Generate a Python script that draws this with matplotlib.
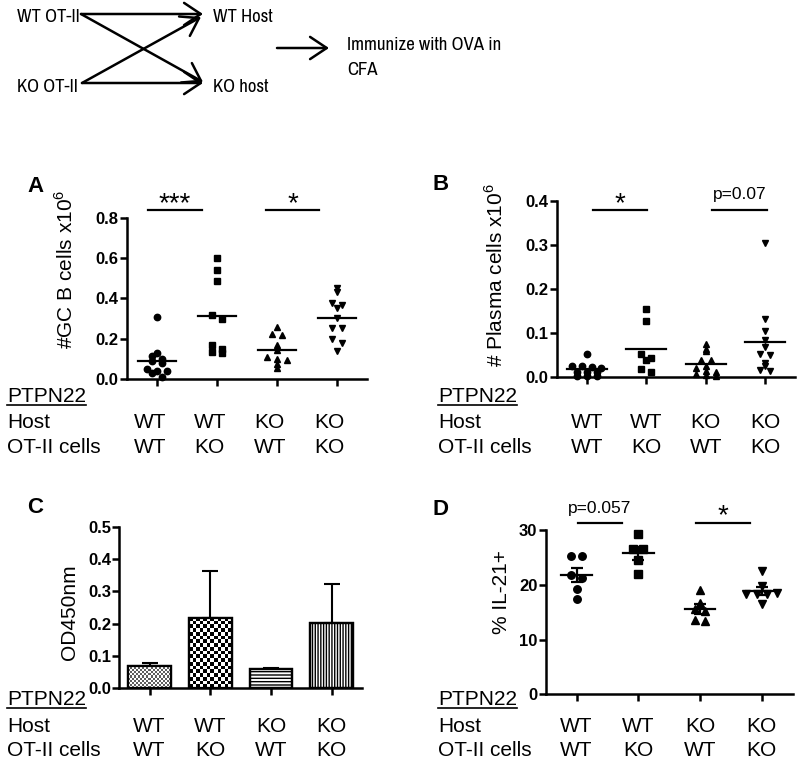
import numpy as np
import matplotlib.pyplot as plt
from matplotlib import font_manager
from matplotlib.font_manager import FontProperties
from matplotlib.transforms import blended_transform_factory

# --- data ---
host = ['WT', 'WT', 'KO', 'KO']
ot2 = ['WT', 'KO', 'WT', 'KO']
markers = ['o', 's', '^', 'v']

# A: GC B cells x10^6
gc_wt_wt = [0.31, 0.13, 0.112, 0.10, 0.088, 0.078, 0.048, 0.038, 0.038, 0.028, 0.012]
gc_wt_ko = [0.60, 0.54, 0.485, 0.32, 0.30, 0.17, 0.15, 0.135, 0.13]
gc_ko_wt = [0.26, 0.225, 0.22, 0.17, 0.145, 0.11, 0.10, 0.095, 0.073, 0.057]
gc_ko_ko = [0.453, 0.43, 0.38, 0.37, 0.355, 0.305, 0.255, 0.255, 0.2, 0.18, 0.137]

# B: plasma cells x10^6
pc_wt_wt = [0.053, 0.026, 0.025, 0.024, 0.022, 0.013, 0.012, 0.011, 0.004, 0.003, 0.002]
pc_wt_ko = [0.155, 0.128, 0.052, 0.043, 0.04, 0.019, 0.013]
pc_ko_wt = [0.075, 0.065, 0.06, 0.04, 0.04, 0.025, 0.02, 0.015, 0.012, 0.008, 0.005, 0.003]
pc_ko_ko = [0.305, 0.132, 0.105, 0.085, 0.068, 0.052, 0.05, 0.032, 0.026, 0.017, 0.015]

# C: OD450nm, mean and upper error
od_mean = [0.069, 0.217, 0.059, 0.203]
od_err = [0.010, 0.145, 0.004, 0.119]

# D: % IL-21+
il_wt_wt = [25.3, 25.3, 21.8, 21.3, 19.3, 17.4]
il_wt_ko = [29.3, 26.5, 26.5, 24.6, 21.9]
il_ko_wt = [19.1, 16.6, 15.5, 15.3, 13.6, 13.3]
il_ko_ko = [22.5, 19.8, 18.3, 18.3, 18.4, 18.5, 16.4]

plt.rcParams['font.family'] = ['Liberation Sans', 'DejaVu Sans']
plt.rcParams['mathtext.fontset'] = 'custom'
plt.rcParams['mathtext.rm'] = 'Liberation Sans'
plt.rcParams['hatch.linewidth'] = 1.0

# narrow font for the scheme at the top, if one is installed
narrow = None
for key in ['LiberationSansNarrow-Regular', 'Narrow', 'SansCondensed', 'Condensed']:
    for f in font_manager.fontManager.ttflist:
        fn = f.fname.split('/')[-1]
        if key in fn and 'Bold' not in fn and 'Italic' not in fn and 'Oblique' not in fn:
            narrow = f.fname
            break
    if narrow:
        break
if narrow:
    scheme_font = FontProperties(fname=narrow, size=13.5)
else:
    scheme_font = FontProperties(family='Liberation Sans', size=11)

W, H = 800, 761
fig = plt.figure(figsize=(8, 7.61), dpi=100)


def add_ax(left, right, top, bottom):
    return fig.add_axes([left / W, 1 - bottom / H, (right - left) / W, (bottom - top) / H])


def style(ax, ylim, yticks, fmt):
    ax.set_xlim(-0.5, 3.5)
    ax.set_ylim(*ylim)
    ax.set_yticks(yticks)
    ax.set_yticklabels([fmt.format(t) for t in yticks], fontweight='bold', fontsize=12)
    ax.set_xticks(range(4))
    ax.set_xticklabels([])
    for s in ['top', 'right']:
        ax.spines[s].set_visible(False)
    for s in ['left', 'bottom']:
        ax.spines[s].set_linewidth(1.8)
    ax.tick_params(width=1.8, length=5, direction='out', pad=1)


def swarm(vals, binw, step):
    bins = np.floor(np.asarray(vals) / binw).astype(int)
    off = np.zeros(len(vals))
    for b in np.unique(bins):
        idx = np.where(bins == b)[0]
        off[idx] = (np.arange(len(idx)) - (len(idx) - 1) / 2) * step
    return off


def dots(ax, groups, binw, ms, halfw, sem=False):
    for i, vals in enumerate(groups):
        vals = np.asarray(vals)
        x = i + swarm(vals, binw, 0.165)
        ax.plot(x, vals, ls='none', marker=markers[i], color='black', ms=ms, clip_on=False, zorder=3)
        mu = vals.mean()
        ax.plot([i - halfw, i + halfw], [mu, mu], color='black', lw=1.6, zorder=4)
        if sem:
            se = vals.std(ddof=1) / np.sqrt(len(vals))
            ax.errorbar(i, mu, yerr=se, fmt='none', ecolor='black', elinewidth=1.6,
                        capsize=4.5, capthick=1.6, zorder=4)


def sig(ax, x0, x1, y, label, ty, size, va='baseline'):
    ax.plot([x0, x1], [y, y], color='black', lw=1.6, clip_on=False)
    ax.text((x0 + x1) / 2, ty, label, ha='center', va=va, fontsize=size, clip_on=False)


# --- panel A ---
axA = add_ax(127, 367, 218, 379)
style(axA, (0, 0.8), [0, 0.2, 0.4, 0.6, 0.8], '{:.1f}')
dots(axA, [gc_wt_wt, gc_wt_ko, gc_ko_wt, gc_ko_ko], 0.03, 4.6, 0.32)
sig(axA, -0.15, 0.75, 0.84, '***', 0.835, 20)
sig(axA, 1.82, 2.70, 0.84, '*', 0.835, 20)
axA.set_ylabel('#GC B cells x10$^{\\mathregular{6}}$', fontsize=15)
axA.yaxis.set_label_coords(-0.21, 0.68)

# --- panel B ---
axB = add_ax(557, 795, 200.7, 377.3)
style(axB, (0, 0.4), [0, 0.1, 0.2, 0.3, 0.4], '{:.1f}')
dots(axB, [pc_wt_wt, pc_wt_ko, pc_ko_wt, pc_ko_ko], 0.0105, 4.6, 0.34)
sig(axB, 0.11, 1.02, 0.378, '*', 0.376, 20)
sig(axB, 2.11, 3.03, 0.378, 'p=0.07', 0.398, 12.5, va='bottom')
axB.set_ylabel('# Plasma cells x10$^{\\mathregular{6}}$', fontsize=15)
axB.yaxis.set_label_coords(-0.21, 0.58)

# --- panel C ---
axC = add_ax(119.3, 362, 526.7, 688.3)
style(axC, (0, 0.5), [0, 0.1, 0.2, 0.3, 0.4, 0.5], '{:.1f}')
xs = np.arange(4)
bw = 0.7
bars = axC.bar(xs, od_mean, width=bw, color='white', edgecolor='black', linewidth=1.6,
               hatch=[None, None, '-----', '||||||'], zorder=2)
# checker patterns for the first two bars, clipped to the bar shapes
for i, cell, lo in [(0, 2.0, -0.6), (1, 3.6, 0)]:
    p0 = axC.transData.transform((i - bw / 2, 0))
    p1 = axC.transData.transform((i + bw / 2, od_mean[i]))
    nx = max(1, int(round((p1[0] - p0[0]) / cell)))
    ny = max(1, int(round((p1[1] - p0[1]) / cell)))
    chk = np.add.outer(np.arange(ny), np.arange(nx)) % 2
    im = axC.imshow(chk, extent=(i - bw / 2, i + bw / 2, 0, od_mean[i]), cmap='gray',
                    aspect='auto', interpolation='nearest', zorder=2.5, vmin=lo, vmax=1)
    im.set_clip_path(bars[i])
axC.bar(xs, od_mean, width=bw, fill=False, edgecolor='black', linewidth=1.6, zorder=3)
axC.errorbar(xs, od_mean, yerr=[np.zeros(4), od_err], fmt='none', ecolor='black',
             elinewidth=1.5, capsize=5.5, capthick=1.5, zorder=1)
axC.set_xlim(-0.5, 3.5)
axC.set_ylim(0, 0.5)
axC.set_ylabel('OD450nm', fontsize=15)
axC.yaxis.set_label_coords(-0.165, 0.47)

# --- panel D ---
axD = add_ax(545.7, 792.5, 530, 694.3)
style(axD, (0, 30), [0, 10, 20, 30], '{:d}')
dots(axD, [il_wt_wt, il_wt_ko, il_ko_wt, il_ko_ko], 1.3, 5.4, 0.25, sem=True)
sig(axD, 0.02, 0.73, 31.3, 'p=0.057', 32.6, 12.5, va='bottom')
sig(axD, 1.94, 2.81, 31.3, '*', 31.2, 20)
axD.set_ylabel('% IL-21+', fontsize=15)
axD.yaxis.set_label_coords(-0.14, 0.62)

# --- overlay in pixel coordinates for diagram and row labels ---
ov = fig.add_axes([0, 0, 1, 1])
ov.set_xlim(0, W)
ov.set_ylim(H, 0)
ov.axis('off')

ov.text(17, 21.7, 'WT OT-II', fontproperties=scheme_font, va='baseline')
ov.text(17, 92.5, 'KO OT-II', fontproperties=scheme_font, va='baseline')
ov.text(213, 21.7, 'WT Host', fontproperties=scheme_font, va='baseline')
ov.text(213, 92.5, 'KO host', fontproperties=scheme_font, va='baseline')
ov.text(347, 50, 'Immunize with OVA in', fontproperties=scheme_font, va='baseline')
ov.text(347, 75, 'CFA', fontproperties=scheme_font, va='baseline')
arrow = dict(arrowstyle='->,head_length=0.6,head_width=0.4', lw=1.8, color='black',
             mutation_scale=20, shrinkA=0, shrinkB=0)
for (x0, y0), (x1, y1) in [((81, 14), (203, 14)), ((81, 14), (203, 82)),
                           ((82, 83), (201, 17)), ((82, 83), (203, 83)),
                           ((277, 48), (329, 48))]:
    ov.annotate('', xy=(x1, y1), xytext=(x0, y0), arrowprops=arrow)

letters = [('A', 27, 192), ('B', 433, 190), ('C', 27, 513), ('D', 433, 515)]
for lab, x, y in letters:
    ov.text(x, y, lab, fontsize=16, fontweight='bold', va='baseline')

rows = [(axA, 7, 402, -0.12), (axB, 438, 402, 0.0), (axC, 7, 705, 0.0), (axD, 438, 705, 0.0)]
ptpn = []
for ax, x0, base, off in rows:
    t = ov.text(x0, base, 'PTPN22', fontsize=15, va='baseline')
    ptpn.append((t, base))
    ov.text(x0, base + 26.5, 'Host', fontsize=15, va='baseline')
    ov.text(x0, base + 51, 'OT-II cells', fontsize=15, va='baseline')
    tr = blended_transform_factory(ax.transData, ov.transData)
    for i in range(4):
        ov.text(i + off, base + 26.5, host[i], fontsize=15, ha='center', va='baseline', transform=tr)
        ov.text(i + off, base + 51, ot2[i], fontsize=15, ha='center', va='baseline', transform=tr)

fig.canvas.draw()
inv = ov.transData.inverted()
for t, base in ptpn:
    bb = t.get_window_extent()
    xa = inv.transform((bb.x0, 0))[0]
    xb = inv.transform((bb.x1, 0))[0]
    ov.plot([xa, xb], [base + 2.5, base + 2.5], color='black', lw=1.2)

fig.savefig('out.png', dpi=100)
